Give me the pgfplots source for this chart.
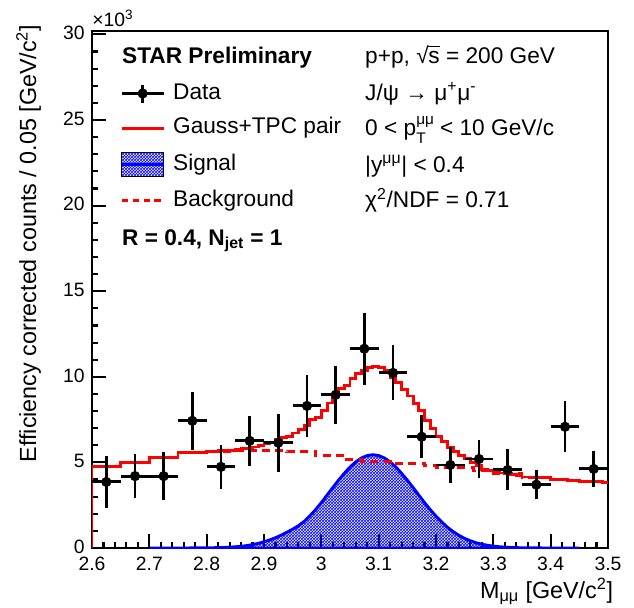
\documentclass[border=0pt]{standalone}
\usepackage{fontspec}
\setmainfont{Liberation Sans}
\usepackage{pgfplots}
\pgfplotsset{compat=1.18}
\usetikzlibrary{patterns.meta}

\tikzdeclarepattern{
  name=rootmesh,
  type=uncolored,
  bounding box={(0pt,0pt) and (2.5pt,2.5pt)},
  tile size={(2.5pt,2.5pt)},
  code={
    \pgfsetlinewidth{0.55pt}
    \pgfpathmoveto{\pgfpoint{0pt}{0pt}}\pgfpathlineto{\pgfpoint{2.5pt}{2.5pt}}
    \pgfpathmoveto{\pgfpoint{0pt}{2.5pt}}\pgfpathlineto{\pgfpoint{2.5pt}{0pt}}
    \pgfusepath{stroke}
  }
}

\newcommand\lab{\fontsize{17}{20}\selectfont}
\newcommand\axl{\fontsize{17.5}{20}\selectfont}
\newcommand\tck{\fontsize{14.5}{17}\selectfont}
\newcommand\smt{\fontsize{11.5}{12}\selectfont}

% data points: bin centre, counts (x10^3), half bin width, error
\pgfplotstableread{
x      y      ex     ey
2.625  3.86   0.025  1.50
2.675  4.20   0.025  1.30
2.725  4.20   0.025  1.40
2.775  7.43   0.025  1.70
2.825  4.74   0.025  1.30
2.875  6.26   0.025  1.45
2.925  6.15   0.025  1.70
2.975  8.30   0.025  1.80
3.025  8.95   0.025  1.70
3.075  11.64  0.025  2.10
3.125  10.23  0.025  1.60
3.175  6.50   0.025  1.25
3.225  4.85   0.025  1.05
3.275  5.20   0.025  1.10
3.325  4.56   0.025  1.20
3.375  3.70   0.025  0.85
3.425  7.08   0.025  1.50
3.475  4.62   0.025  1.05
}\datatab

\begin{document}
\begin{tikzpicture}
\begin{axis}[
    scale only axis,
    width=387pt,
    height=387.75pt,
    xmin=2.6, xmax=3.5,
    ymin=0, ymax=30.2,
    enlargelimits=false,
    xtick={2.6,2.7,2.8,2.9,3.0,3.1,3.2,3.3,3.4,3.5},
    ytick={0,5,10,15,20,25,30},
    minor x tick num=4,
    minor y tick num=4,
    tick pos=left,
    tick align=inside,
    major tick length=10.5pt,
    minor tick length=4.5pt,
    axis line style={line width=2pt},
    every tick/.style={line width=1.6pt, black},
    /pgf/number format/assume math mode=true,
    tick label style={font=\tck},
    xticklabel style={yshift=-3pt},
    yticklabel style={xshift=-2pt, yshift=1pt},
    xlabel={M\textsubscript{μμ} [GeV/c\textsuperscript{2}]},
    ylabel={Efficiency corrected counts / 0.05 [GeV/c\textsuperscript{2}]},
    label style={font=\axl},
    xlabel style={at={(rel axis cs:1.019,-0.05)}, anchor=north east},
    ylabel style={at={(rel axis cs:-0.09,1.021)}, anchor=south east},
    clip mode=individual,
    legend style={
      at={(rel axis cs:0.0464,0.905)},
      anchor=north west,
      draw=none, fill=none,
      font=\lab,
      row sep=10.2pt,
      column sep=6pt,
      nodes={inner sep=0pt, text height=12.2pt, text depth=3.5pt},
    },
    legend cell align=left,
  ]

  % signal (gaussian part of the fit)
  \addplot[forget plot, draw=blue, line width=2.2pt, pattern={rootmesh}, pattern color=blue]
    coordinates {
      (2.70,0)(2.75,0.001)(2.79,0.005)(2.81,0.015)(2.83,0.03)(2.84,0.05)
      (2.85,0.07)(2.86,0.10)(2.87,0.14)(2.88,0.20)(2.89,0.27)(2.90,0.36)
      (2.91,0.47)(2.92,0.60)(2.93,0.75)(2.94,0.92)(2.95,1.10)(2.96,1.30)
      (2.97,1.55)(2.98,1.88)(2.99,2.24)(3.00,2.65)(3.01,3.09)(3.02,3.53)
      (3.03,3.96)(3.04,4.36)(3.05,4.73)(3.06,5.03)(3.07,5.26)(3.08,5.40)
      (3.09,5.45)(3.10,5.40)(3.11,5.26)(3.12,5.03)(3.13,4.73)(3.14,4.36)
      (3.15,3.96)(3.16,3.53)(3.17,3.09)(3.18,2.65)(3.19,2.24)(3.20,1.86)
      (3.21,1.52)(3.22,1.21)(3.23,0.955)(3.24,0.74)(3.25,0.56)(3.26,0.42)
      (3.27,0.306)(3.28,0.22)(3.29,0.156)(3.30,0.11)(3.31,0.074)(3.32,0.05)
      (3.33,0.033)(3.34,0.021)(3.35,0.013)(3.37,0.005)(3.40,0.001)(3.45,0)
    } \closedcycle;

  % background (TPC pair template)
  \addplot[forget plot, red, line width=2.2pt, dash pattern=on 6pt off 4pt, const plot]
    coordinates {
      (2.60,4.74)(2.65,5.02)(2.70,5.30)(2.75,5.60)(2.80,5.65)(2.85,5.70)
      (2.90,5.72)(2.94,5.62)(2.99,5.38)(3.04,5.15)(3.07,5.05)(3.12,4.92)
      (3.18,4.80)(3.20,4.68)(3.265,4.50)(3.30,4.34)(3.35,4.14)(3.37,4.10)
      (3.40,3.98)(3.43,3.92)(3.45,3.86)(3.49,3.80)(3.50,3.80)
    };

  % total fit: Gauss + TPC pair
  \addplot[forget plot, red, line width=2.2pt, const plot]
    coordinates {
      (2.60,0)(2.60,4.74)(2.65,5.02)(2.70,5.30)(2.75,5.60)(2.80,5.66)(2.82,5.68)
      (2.84,5.72)(2.85,5.77)(2.86,5.80)(2.87,5.84)(2.88,5.90)(2.89,5.97)
      (2.90,6.08)(2.91,6.19)(2.92,6.32)(2.93,6.47)(2.94,6.54)(2.95,6.72)
      (2.96,6.92)(2.97,7.14)(2.98,7.48)(2.99,7.62)(3.00,8.03)(3.01,8.47)
      (3.02,8.91)(3.03,9.34)(3.04,9.51)(3.05,9.88)(3.06,10.18)(3.07,10.35)
      (3.08,10.52)(3.09,10.60)(3.10,10.52)(3.11,10.35)(3.12,9.95)(3.13,9.65)
      (3.14,9.28)(3.15,8.88)(3.16,8.45)(3.17,8.01)(3.18,7.45)(3.19,7.00)
      (3.20,6.54)(3.21,6.20)(3.22,5.89)(3.23,5.62)(3.24,5.40)(3.25,5.22)
      (3.26,5.00)(3.27,4.80)(3.28,4.60)(3.29,4.52)(3.30,4.45)(3.31,4.38)
      (3.32,4.33)(3.33,4.28)(3.34,4.22)(3.35,4.15)(3.37,4.10)(3.40,3.98)
      (3.43,3.92)(3.45,3.86)(3.49,3.80)(3.50,3.80)
    };

  % data
  \addplot[forget plot, black, only marks, mark=*, mark size=3.6pt,
    error bars/.cd, x dir=both, x explicit, y dir=both, y explicit,
    error mark=none, error bar style={line width=2.2pt, black}]
    table[x=x, y=y, x error=ex, y error=ey] {\datatab};

  % legend entries
  \addlegendimage{legend image code/.code={
      \draw[black, line width=2.2pt] (0pt,0pt) -- (31.5pt,0pt);
      \draw[black, line width=2.2pt] (15.75pt,-6.75pt) -- (15.75pt,6.75pt);
      \fill[black] (15.75pt,0pt) circle[radius=3.6pt];}}
  \addlegendentry{Data}
  \addlegendimage{legend image code/.code={
      \draw[red, line width=2.2pt] (0pt,0pt) -- (31.5pt,0pt);}}
  \addlegendentry{Gauss+TPC pair}
  \addlegendimage{legend image code/.code={
      \path[pattern={rootmesh}, pattern color=blue] (0pt,-9pt) rectangle (31.5pt,9pt);
      \draw[blue, line width=2.2pt] (0pt,0pt) -- (31.5pt,0pt);}}
  \addlegendentry{Signal}
  \addlegendimage{legend image code/.code={
      \draw[red, line width=2.2pt, dash pattern=on 5pt off 3.2pt] (0pt,0pt) -- (31.5pt,0pt);}}
  \addlegendentry{Background}

  % texts
  \node[anchor=base west, font=\lab\bfseries, inner sep=0pt] at (rel axis cs:0.058,0.938) {STAR Preliminary};
  \node[anchor=base west, font=\lab\bfseries, inner sep=0pt] at (rel axis cs:0.058,0.586) {R = 0.4, N\textsubscript{jet} = 1};

  \node[anchor=base west, font=\lab, inner sep=0pt] at (rel axis cs:0.529,0.938)
    {p+p, √\kern-0.2pt\rlap{\rule[0.70em]{0.52em}{0.06em}}s = 200 GeV};
  \node[anchor=base west, font=\lab, inner sep=0pt] at (rel axis cs:0.529,0.8665)
    {J/ψ → μ\textsuperscript{+}μ\textsuperscript{-}};
  \node[anchor=base west, font=\lab, inner sep=0pt] at (rel axis cs:0.529,0.797)
    {0 < p\rlap{\raisebox{0.52em}{\smt μμ}}\raisebox{-0.32em}{\smt T}\hspace{0.36em} < 10 GeV/c};
  \node[anchor=base west, font=\lab, inner sep=0pt] at (rel axis cs:0.529,0.727)
    {|y\textsuperscript{μμ}| < 0.4};
  \node[anchor=base west, font=\lab, inner sep=0pt] at (rel axis cs:0.529,0.658)
    {χ\textsuperscript{2}/NDF = 0.71};

  \node[anchor=south west, font=\tck, inner sep=0pt] at (rel axis cs:0,1.008) {×10\textsuperscript{3}};

  \coordinate (bbsw) at (rel axis cs:-0.17829,-0.11412);
  \coordinate (bbne) at (rel axis cs:1.05039,1.05996);
\end{axis}
\pgfresetboundingbox
\path[use as bounding box] (bbsw) rectangle (bbne);
\end{tikzpicture}
\end{document}
